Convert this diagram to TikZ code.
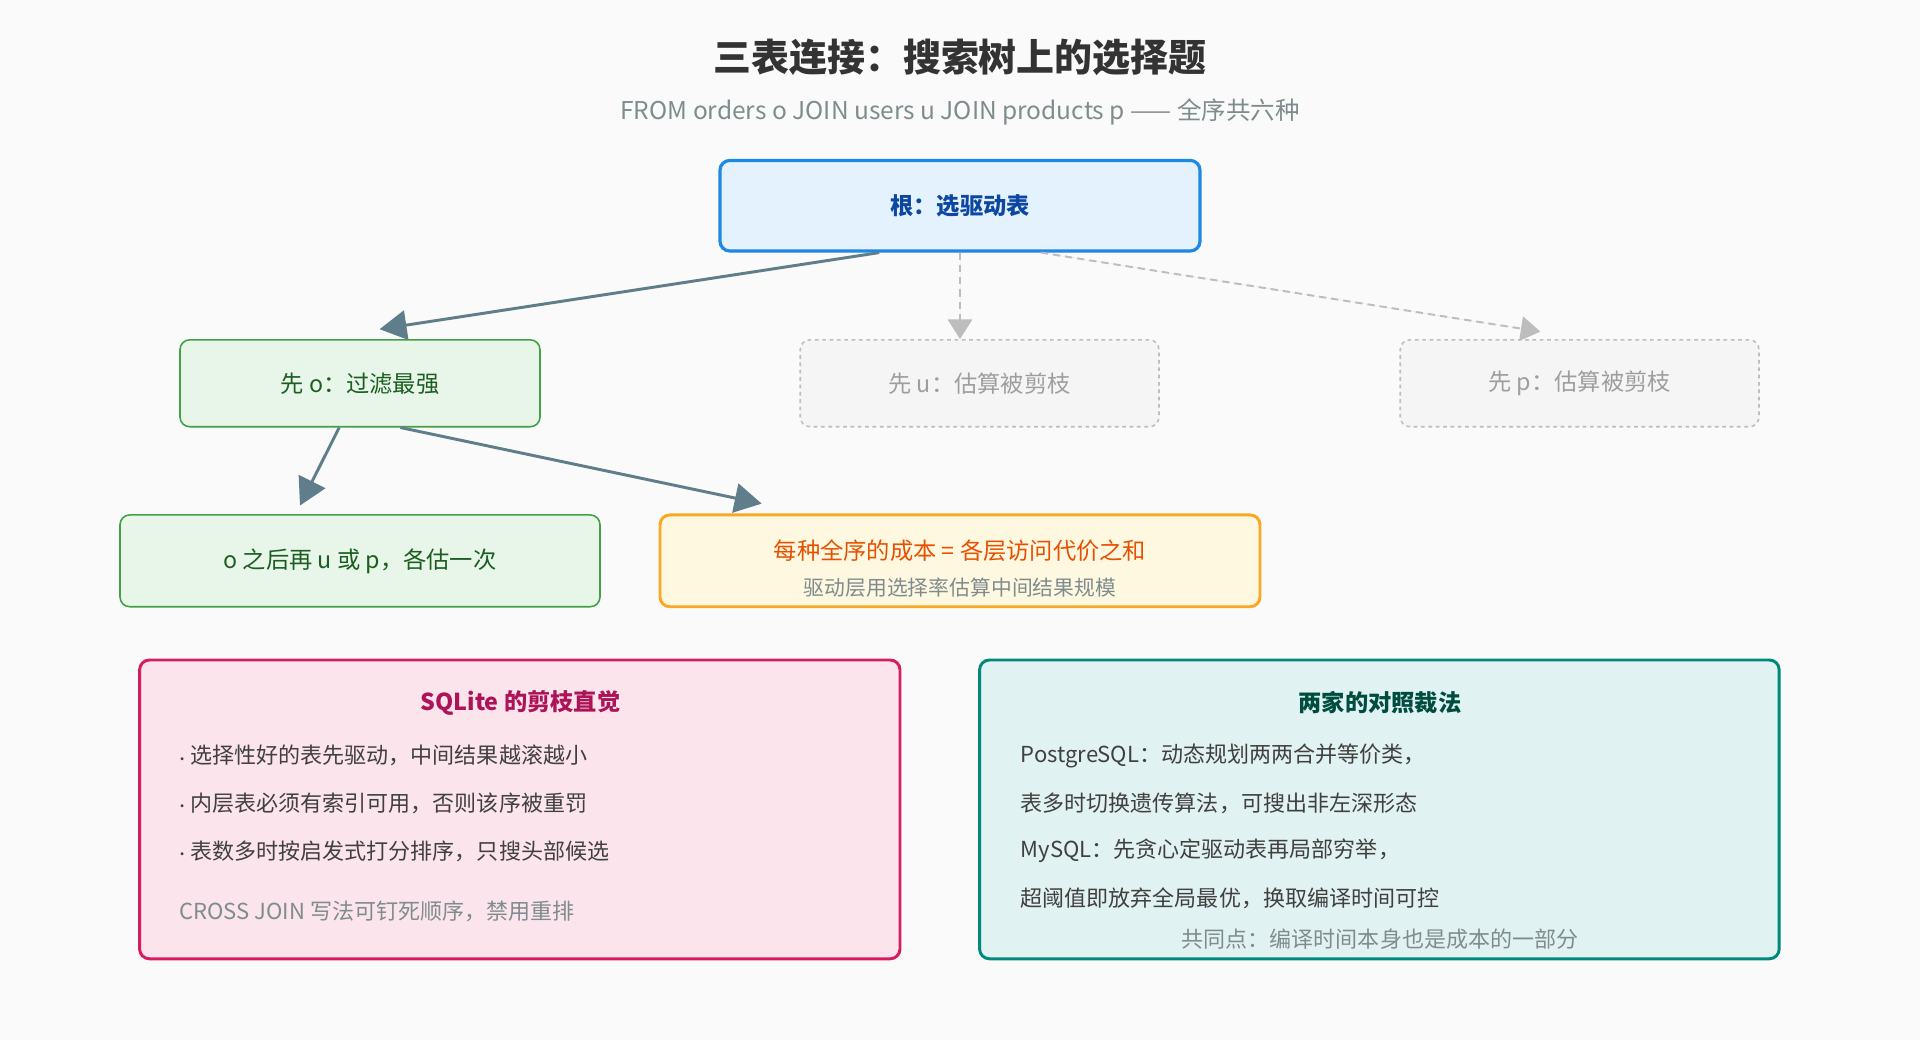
\documentclass[tikz,border=0pt]{standalone}
\usepackage{fontspec}
\setmainfont{Noto Sans CJK SC}
\usetikzlibrary{arrows.meta}
\definecolor{bg}{HTML}{FAFAFA}
\definecolor{edge}{HTML}{607D8B}
\definecolor{muted}{HTML}{7F8C8D}
\definecolor{pruned}{HTML}{BDBDBD}
\definecolor{rootfill}{HTML}{E3F2FD}
\definecolor{rootline}{HTML}{1E88E5}
\definecolor{roottext}{HTML}{0D47A1}
\definecolor{goodfill}{HTML}{E8F5E9}
\definecolor{goodline}{HTML}{43A047}
\definecolor{goodtext}{HTML}{1B5E20}
\definecolor{costfill}{HTML}{FFF8E1}
\definecolor{costline}{HTML}{F9A825}
\definecolor{costtext}{HTML}{E65100}
\definecolor{sqfill}{HTML}{FCE4EC}
\definecolor{sqline}{HTML}{D81B60}
\definecolor{sqtext}{HTML}{AD1457}
\definecolor{pgfill}{HTML}{E0F2F1}
\definecolor{pgline}{HTML}{00897B}
\definecolor{pgtext}{HTML}{004D40}
\newcommand{\sz}[1]{\fontsize{#1}{#1}\selectfont}
\newcommand{\dotitem}{\raisebox{0.3ex}{.}\hspace{4pt}}

\begin{document}
\begin{tikzpicture}[x=1pt,y=-1pt]
  \tikzset{
    box/.style={draw,rounded corners=8pt,line width=1.3pt,minimum height=71pt,font=\sz{19}},
    good/.style={box,fill=goodfill,draw=goodline,text=goodtext},
    cut/.style={box,fill=black!4,draw=pruned,dashed,text=black!38},
    tip/.style={-{Triangle[length=22pt,width=24pt]}},
    solidarr/.style={tip,draw=edge,fill=edge,line width=2.4pt},
    cutarr/.style={-{Triangle[length=16pt,width=20pt]},draw=pruned,fill=pruned,line width=1.6pt,dash pattern=on 6pt off 4pt}
  }
  \fill[bg] (0,0) rectangle (1568,849);
  \useasboundingbox (0,0) rectangle (1568,849);

  \node[font=\sz{31}\bfseries,text=black!80] (title) at (784,47) {三表连接：搜索树上的选择题};
  \node[font=\sz{20},text=muted] (sub) at (784,91) {FROM orders o JOIN users u JOIN products p —— 全序共六种};

  \node[box,minimum width=392pt,minimum height=74pt,fill=rootfill,draw=rootline,line width=2.6pt,text=roottext,font=\sz{19}\bfseries] (root) at (784,168) {根：选驱动表};
  \node[good,minimum width=294pt] (o) at (294,313) {先 o：过滤最强};
  \node[cut,minimum width=293pt] (u) at (800,313) {先 u：估算被剪枝};
  \node[cut,minimum width=293pt] (p) at (1290,313) {先 p：估算被剪枝};
  \node[good,minimum width=392pt,minimum height=75pt] (ou) at (294,458) {o 之后再 u 或 p，各估一次};
  \node[box,minimum width=490pt,minimum height=75pt,fill=costfill,draw=costline,line width=2.4pt] (cost) at (784,458) {};
  \node[font=\sz{19},text=costtext] (cost1) at (784,450) {每种全序的成本 = 各层访问代价之和};
  \node[font=\sz{17},text=muted] (cost2) at (784,480) {驱动层用选择率估算中间结果规模};

  \draw[solidarr] ([xshift=-66pt]root.south) -- ([xshift=16pt,yshift=8pt]o.north);
  \draw[cutarr] (root.south) -- (u.north -| root.south);
  \draw[cutarr] ([xshift=66pt]root.south) -- ([xshift=-32pt,yshift=6pt]p.north);
  \draw[solidarr] ([xshift=-17pt]o.south) -- ([xshift=-49pt,yshift=7pt]ou.north);
  \draw[solidarr] ([xshift=33pt]o.south) -- ([xshift=-162pt,yshift=8pt]cost.north);

  % notes
  \node[box,minimum width=621pt,minimum height=244pt,fill=sqfill,draw=sqline,line width=2.4pt] (sq) at (424.5,661) {};
  \node[font=\sz{19}\bfseries,text=sqtext] (sqt) at (425,574) {SQLite 的剪枝直觉};
  \foreach \t [count=\i] in {选择性好的表先驱动，中间结果越滚越小,内层表必须有索引可用，否则该序被重罚,表数多时按启发式打分排序，只搜头部候选}
    \node[font=\sz{18},anchor=west,text=black!75] (sq\i) at (143,578+39*\i) {\dotitem\t};
  \node[font=\sz{18},anchor=west,text=muted] (sqn) at (143,744) {CROSS JOIN 写法可钉死顺序，禁用重排};

  \node[box,minimum width=653pt,minimum height=244pt,fill=pgfill,draw=pgline,line width=2.4pt] (pg) at (1126.5,661) {};
  \node[font=\sz{19}\bfseries,text=pgtext] (pgt) at (1127,574) {两家的对照裁法};
  \foreach \t [count=\i] in {PostgreSQL：动态规划两两合并等价类，,表多时切换遗传算法，可搜出非左深形态,MySQL：先贪心定驱动表再局部穷举，,超阈值即放弃全局最优，换取编译时间可控}
    \node[font=\sz{18},anchor=west,text=black!75] (pg\i) at (830,578+39*\i) {\t};
  \node[font=\sz{18},text=muted] (pgn) at (1127,767) {共同点：编译时间本身也是成本的一部分};
\end{tikzpicture}
\end{document}
